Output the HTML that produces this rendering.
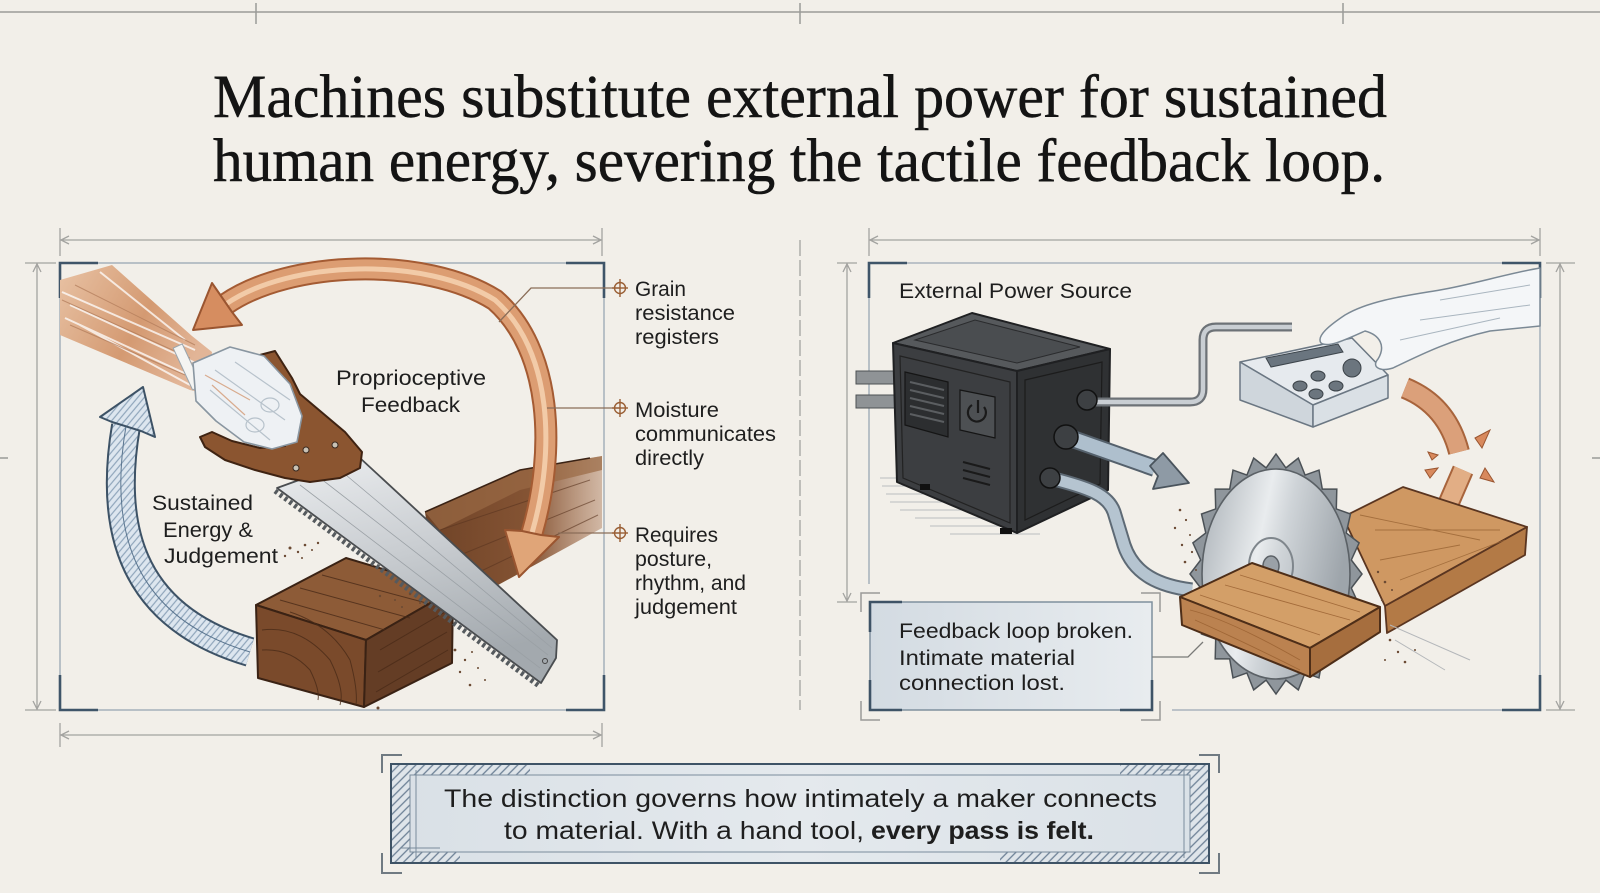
<!DOCTYPE html>
<html><head><meta charset="utf-8">
<style>
html,body{margin:0;padding:0;background:#f2efe9;}
svg{display:block;}
text{font-family:"Liberation Sans",Arial,sans-serif;fill:#1e1e1e;}
.serif{font-family:"Liberation Serif","Times New Roman",serif;fill:#141414;stroke:#141414;stroke-width:0.5;}
</style></head><body>
<svg xmlns="http://www.w3.org/2000/svg" width="1600" height="893" viewBox="0 0 1600 893">
<defs>
  <pattern id="hatch" width="6" height="6" patternUnits="userSpaceOnUse" patternTransform="rotate(45)">
    <rect width="6" height="6" fill="#dfe5ea"/>
    <line x1="1" y1="0" x2="1" y2="6" stroke="#6d8196" stroke-width="1.3"/>
  </pattern>
  <pattern id="bhatch" width="5" height="5" patternUnits="userSpaceOnUse" patternTransform="rotate(40)">
    <rect width="5" height="5" fill="#dde6ef"/>
    <line x1="1" y1="0" x2="1" y2="5" stroke="#8fa5bb" stroke-width="1.2"/>
  </pattern>
  <linearGradient id="blade" x1="0" y1="0" x2="0.3" y2="1">
    <stop offset="0" stop-color="#eceef0"/>
    <stop offset="0.5" stop-color="#c9cdd1"/>
    <stop offset="1" stop-color="#a3a9ae"/>
  </linearGradient>
  <linearGradient id="disc" x1="0" y1="0" x2="1" y2="0.3">
    <stop offset="0" stop-color="#a8afb5"/>
    <stop offset="0.45" stop-color="#e9ecee"/>
    <stop offset="0.6" stop-color="#cfd4d8"/>
    <stop offset="1" stop-color="#9ea5ab"/>
  </linearGradient>
  <linearGradient id="fbox" x1="0" y1="0" x2="1" y2="0">
    <stop offset="0" stop-color="#d3dbe2"/>
    <stop offset="1" stop-color="#e8ecef"/>
  </linearGradient>
  <linearGradient id="bbox" x1="0" y1="0" x2="1" y2="0">
    <stop offset="0" stop-color="#d9e0e6"/>
    <stop offset="0.5" stop-color="#e4e9ed"/>
    <stop offset="1" stop-color="#dae1e7"/>
  </linearGradient>
  <linearGradient id="plank" x1="0" y1="0" x2="1" y2="0">
    <stop offset="0" stop-color="#6f4327"/>
    <stop offset="0.6" stop-color="#855434"/>
    <stop offset="1" stop-color="#b08060" stop-opacity="0.5"/>
  </linearGradient>
  <linearGradient id="arm" x1="0" y1="0" x2="1" y2="0.5">
    <stop offset="0" stop-color="#e8c2a4"/>
    <stop offset="0.6" stop-color="#d49a72"/>
    <stop offset="1" stop-color="#e2b597"/>
  </linearGradient>
</defs>

<rect width="1600" height="893" fill="#f2efe9"/>

<g stroke="#9b9b98" stroke-width="1.5" fill="none">
  <line x1="0" y1="12" x2="1600" y2="12"/>
  <line x1="256" y1="3" x2="256" y2="24"/>
  <line x1="800" y1="3" x2="800" y2="24"/>
  <line x1="1343" y1="3" x2="1343" y2="24"/>
  <line x1="0" y1="458" x2="8" y2="458"/>
  <line x1="1592" y1="458" x2="1600" y2="458"/>
</g>

<text class="serif" x="213" y="117" font-size="61" textLength="1174" lengthAdjust="spacingAndGlyphs">Machines substitute external power for sustained</text>
<text class="serif" x="213" y="181" font-size="61" textLength="1172" lengthAdjust="spacingAndGlyphs">human energy, severing the tactile feedback loop.</text>

<g stroke="#a3a3a0" stroke-width="1.3" fill="none">
  <line x1="60" y1="240" x2="602" y2="240"/>
  <line x1="60" y1="228" x2="60" y2="256"/><line x1="602" y1="228" x2="602" y2="256"/>
  <polyline points="69,236 61,240 69,244"/><polyline points="593,236 601,240 593,244"/>
  <line x1="60" y1="735" x2="602" y2="735"/>
  <line x1="60" y1="723" x2="60" y2="747"/><line x1="602" y1="723" x2="602" y2="747"/>
  <polyline points="69,731 61,735 69,739"/><polyline points="593,731 601,735 593,739"/>
  <line x1="37" y1="263" x2="37" y2="710"/>
  <line x1="25" y1="263" x2="56" y2="263"/><line x1="25" y1="710" x2="56" y2="710"/>
  <polyline points="33,272 37,264 41,272"/><polyline points="33,701 37,709 41,701"/>
  <line x1="869" y1="240" x2="1540" y2="240"/>
  <line x1="869" y1="228" x2="869" y2="256"/><line x1="1540" y1="228" x2="1540" y2="256"/>
  <polyline points="878,236 870,240 878,244"/><polyline points="1531,236 1539,240 1531,244"/>
  <line x1="1560" y1="263" x2="1560" y2="710"/>
  <line x1="1546" y1="263" x2="1575" y2="263"/><line x1="1546" y1="710" x2="1575" y2="710"/>
  <polyline points="1556,272 1560,264 1564,272"/><polyline points="1556,701 1560,709 1564,701"/>
  <line x1="847" y1="263" x2="847" y2="602"/>
  <line x1="837" y1="263" x2="857" y2="263"/><line x1="837" y1="602" x2="857" y2="602"/>
  <polyline points="843,272 847,264 851,272"/><polyline points="843,593 847,601 851,593"/>
  <line x1="800" y1="240" x2="800" y2="710" stroke-dasharray="16 4"/>
</g>

<rect x="60" y="263" width="544" height="447" fill="none" stroke="#aab4bd" stroke-width="1.6"/>
<g stroke="#3f5569" stroke-width="2.6" fill="none">
  <polyline points="60,298 60,263 98,263"/>
  <polyline points="566,263 604,263 604,298"/>
  <polyline points="60,675 60,710 98,710"/>
  <polyline points="566,710 604,710 604,675"/>
</g>

<path d="M869,584 V263 H1540 V710 H1172" fill="none" stroke="#aab4bd" stroke-width="1.6"/>
<g stroke="#3f5569" stroke-width="2.6" fill="none">
  <polyline points="869,298 869,263 907,263"/>
  <polyline points="1502,263 1540,263 1540,298"/>
  <polyline points="1502,710 1540,710 1540,675"/>
</g>

<!-- LEFT ILLUSTRATION -->
<polygon points="425,512 520,470 602,456 602,528 458,607 438,602" fill="url(#plank)"/>
<polygon points="425,512 520,470 602,456 602,470 520,490 440,530" fill="#9a6a45" opacity="0.7"/>
<g stroke="#5a3520" stroke-width="1" opacity="0.6" fill="none">
  <path d="M440,530 L590,480"/><path d="M448,560 L595,500"/><path d="M452,585 L598,515"/>
</g>
<polyline points="425,512 520,470 590,458" fill="none" stroke="#3a2214" stroke-width="1.6"/>

<path d="M126,426 C110,520 125,615 250,652" fill="none" stroke="#3d5266" stroke-width="30"/>
<path d="M126,426 C110,520 125,615 250,652" fill="none" stroke="url(#bhatch)" stroke-width="26"/>
<path d="M126,426 C110,520 125,615 250,652" fill="none" stroke="#5b7690" stroke-width="1"/>
<polygon points="143,387 155,437 141,431 112,422 100,417" fill="url(#bhatch)" stroke="#3d5266" stroke-width="2" stroke-linejoin="round"/>

<path d="M226,304 C290,260 425,256 495,300 C552,350 556,450 532,533" fill="none" stroke="#a45b33" stroke-width="23"/>
<path d="M226,304 C290,260 425,256 495,300 C552,350 556,450 532,533" fill="none" stroke="#dc9d72" stroke-width="19"/>
<path d="M226,304 C290,260 425,256 495,300 C552,350 556,450 532,533" fill="none" stroke="#f2cba8" stroke-width="5"/>
<polygon points="193,330 242,325 232,312 221,296 212,283" fill="#d68d60" stroke="#9a5530" stroke-width="2" stroke-linejoin="round"/>
<polygon points="519,577 505,530 522,531 541,535 559,537" fill="#e0a578" stroke="#9a5530" stroke-width="2" stroke-linejoin="round"/>

<polygon points="256,605 346,558 453,590 366,640" fill="#8d5b37" stroke="#3a2214" stroke-width="2" stroke-linejoin="round"/>
<polygon points="256,605 366,640 364,707 258,678" fill="#7a4a2b" stroke="#3a2214" stroke-width="2" stroke-linejoin="round"/>
<polygon points="366,640 453,590 452,663 364,707" fill="#643d25" stroke="#3a2214" stroke-width="2" stroke-linejoin="round"/>
<g stroke="#4a2b18" stroke-width="1" fill="none" opacity="0.8">
  <path d="M280,600 L385,630"/><path d="M300,588 L410,618"/><path d="M322,575 L430,604"/>
  <path d="M262,630 Q300,625 330,660 Q345,690 340,705"/>
  <path d="M262,650 Q290,648 310,670 Q320,690 318,700"/>
  <path d="M290,612 Q330,625 350,660 Q358,690 356,705"/>
  <path d="M380,650 L445,612"/><path d="M378,672 L447,632"/><path d="M376,692 L448,650"/>
</g>

<line x1="275" y1="491" x2="539" y2="686" stroke="#555a5e" stroke-width="5" stroke-dasharray="3 3"/>
<polygon points="277,488 360,458 557,640 556,658 541,683" fill="url(#blade)" stroke="#4a4d50" stroke-width="1.8" stroke-linejoin="round"/>
<g stroke="#9aa0a5" stroke-width="0.8" fill="none">
  <path d="M300,485 L540,668"/><path d="M320,478 L548,655"/><path d="M340,470 L552,648"/>
</g>
<circle cx="545" cy="661" r="2.5" fill="none" stroke="#444"/>

<polygon points="60,280 112,265 192,336 212,352 207,394 190,390 60,335" fill="url(#arm)"/>
<g stroke="#ffffff" stroke-width="2" fill="none" opacity="0.75">
  <path d="M62,292 L195,350"/><path d="M70,305 L200,365"/><path d="M65,318 L195,378"/>
  <path d="M100,272 L185,340"/><path d="M80,325 L190,385"/>
</g>
<g stroke="#b07a58" stroke-width="1" fill="none" opacity="0.7">
  <path d="M62,300 L190,358"/><path d="M75,285 L195,345"/><path d="M70,325 L185,375"/>
</g>
<rect x="182" y="344" width="10" height="46" transform="rotate(-25 187 366)" fill="#f4f4f2" stroke="#9aa5ad" stroke-width="1"/>

<path d="M256,356 L275,351 L292,378 L300,394 L345,432 L362,452 L360,468 L340,478 L310,482 L285,478 L255,470 L225,460 L205,447 L200,437 L212,432 L232,441 L260,448 L285,446 L290,420 L270,395 Z" fill="#8b5530" stroke="#3f2312" stroke-width="2" stroke-linejoin="round"/>
<g fill="#c9c2b5" stroke="#3a2a20" stroke-width="1">
  <circle cx="306" cy="450" r="3"/><circle cx="335" cy="445" r="3"/><circle cx="296" cy="468" r="3"/>
</g>

<path d="M193,363 L230,347 L264,356 L290,384 L302,416 L297,442 L272,449 L244,442 L216,421 L196,401 Z" fill="#eef1f4" stroke="#8996a1" stroke-width="1.6" stroke-linejoin="round"/>
<g stroke="#b7c2cb" stroke-width="1.2" fill="none">
  <path d="M215,370 L285,420"/><path d="M210,390 L270,440"/><path d="M235,362 L290,400"/>
  <ellipse cx="270" cy="405" rx="9" ry="7"/><ellipse cx="255" cy="425" rx="9" ry="7"/>
</g>
<g stroke="#d39a75" stroke-width="1.2" fill="none" opacity="0.8">
  <path d="M205,375 L250,400"/><path d="M212,385 L245,415"/>
</g>

<g fill="#6b4a33">
  <circle cx="290" cy="548" r="1.5"/><circle cx="298" cy="552" r="1.2"/><circle cx="305" cy="545" r="1.3"/><circle cx="312" cy="550" r="1"/><circle cx="318" cy="543" r="1.2"/><circle cx="302" cy="558" r="1"/><circle cx="285" cy="556" r="1.2"/>
  <circle cx="380" cy="596" r="1.2"/><circle cx="395" cy="600" r="1"/><circle cx="410" cy="594" r="1.2"/><circle cx="402" cy="607" r="1"/><circle cx="420" cy="603" r="1"/>
  <circle cx="455" cy="650" r="1.4"/><circle cx="465" cy="660" r="1.2"/><circle cx="472" cy="652" r="1"/><circle cx="460" cy="672" r="1.2"/><circle cx="478" cy="668" r="1"/><circle cx="470" cy="685" r="1.3"/><circle cx="485" cy="680" r="1"/><circle cx="378" cy="708" r="1.5"/>
</g>

<g stroke="#8a6d58" stroke-width="1.3" fill="none">
  <polyline points="620,288 531,288 499,322"/>
  <line x1="547" y1="408" x2="620" y2="408"/>
  <line x1="558" y1="533" x2="620" y2="533"/>
</g>
<g stroke="#9a5f35" stroke-width="1.4" fill="none">
  <circle cx="620" cy="288" r="5.5"/><line x1="620" y1="279" x2="620" y2="297"/><line x1="612" y1="288" x2="628" y2="288"/>
  <circle cx="620" cy="408" r="5.5"/><line x1="620" y1="399" x2="620" y2="417"/><line x1="612" y1="408" x2="628" y2="408"/>
  <circle cx="620" cy="533" r="5.5"/><line x1="620" y1="524" x2="620" y2="542"/><line x1="612" y1="533" x2="628" y2="533"/>
</g>
<g font-size="21">
  <text x="635" y="296" textLength="51" lengthAdjust="spacingAndGlyphs">Grain</text>
  <text x="635" y="320" textLength="100" lengthAdjust="spacingAndGlyphs">resistance</text>
  <text x="635" y="344" textLength="84" lengthAdjust="spacingAndGlyphs">registers</text>
  <text x="635" y="417" textLength="84" lengthAdjust="spacingAndGlyphs">Moisture</text>
  <text x="635" y="441" textLength="141" lengthAdjust="spacingAndGlyphs">communicates</text>
  <text x="635" y="465" textLength="69" lengthAdjust="spacingAndGlyphs">directly</text>
  <text x="635" y="542" textLength="83" lengthAdjust="spacingAndGlyphs">Requires</text>
  <text x="635" y="566" textLength="77" lengthAdjust="spacingAndGlyphs">posture,</text>
  <text x="635" y="590" textLength="111" lengthAdjust="spacingAndGlyphs">rhythm, and</text>
  <text x="635" y="614" textLength="102" lengthAdjust="spacingAndGlyphs">judgement</text>
  <text x="336" y="385" textLength="150" lengthAdjust="spacingAndGlyphs">Proprioceptive</text>
  <text x="361" y="412" textLength="99" lengthAdjust="spacingAndGlyphs">Feedback</text>
  <text x="152" y="510" textLength="101" lengthAdjust="spacingAndGlyphs">Sustained</text>
  <text x="163" y="537" textLength="90" lengthAdjust="spacingAndGlyphs">Energy &amp;</text>
  <text x="164" y="563" textLength="114" lengthAdjust="spacingAndGlyphs">Judgement</text>
</g>

<!-- RIGHT ILLUSTRATION -->
<text x="899" y="298" font-size="21" textLength="233" lengthAdjust="spacingAndGlyphs">External Power Source</text>

<g stroke="#b9bcbf" stroke-width="1">
  <line x1="880" y1="478" x2="910" y2="478"/><line x1="882" y1="486" x2="930" y2="486"/><line x1="886" y1="494" x2="960" y2="494"/>
  <line x1="890" y1="502" x2="985" y2="502"/><line x1="900" y1="510" x2="1005" y2="510"/><line x1="915" y1="518" x2="1010" y2="518"/>
  <line x1="930" y1="526" x2="1015" y2="526"/><line x1="950" y1="534" x2="1040" y2="534"/>
</g>

<rect x="856" y="371" width="40" height="13" fill="#8f9396" stroke="#4c5054" stroke-width="1"/>
<rect x="856" y="395" width="40" height="13" fill="#8f9396" stroke="#4c5054" stroke-width="1"/>

<polygon points="893,343 972,313 1110,349 1017,371" fill="#56595c" stroke="#1f2022" stroke-width="2" stroke-linejoin="round"/>
<polygon points="915,340 975,320 1080,347 1017,363" fill="#4a4d50" stroke="#2a2b2d" stroke-width="1"/>
<polygon points="893,343 1017,371 1017,533 897,482" fill="#3c3e41" stroke="#1f2022" stroke-width="2" stroke-linejoin="round"/>
<polygon points="1017,371 1110,349 1108,490 1017,533" fill="#2f3133" stroke="#1f2022" stroke-width="2" stroke-linejoin="round"/>
<polygon points="900,356 1010,382 1010,523 903,478" fill="none" stroke="#222" stroke-width="1.2"/>
<polygon points="1025,380 1102,362 1100,484 1025,520" fill="none" stroke="#1c1c1c" stroke-width="1.2"/>
<polygon points="905,372 948,382 948,437 905,425" fill="#2c2e30" stroke="#151515" stroke-width="1.2"/>
<g stroke="#5b5e61" stroke-width="2">
  <line x1="910" y1="382" x2="944" y2="390"/><line x1="910" y1="390" x2="944" y2="398"/><line x1="910" y1="398" x2="944" y2="406"/>
  <line x1="910" y1="406" x2="944" y2="414"/><line x1="910" y1="414" x2="944" y2="422"/>
</g>
<polygon points="960,390 995,397 995,438 960,430" fill="#4d5053" stroke="#151515" stroke-width="1.2"/>
<path d="M972,405 A9,9 0 1 0 984,407" fill="none" stroke="#1a1a1a" stroke-width="2.2"/>
<line x1="978" y1="400" x2="978" y2="413" stroke="#1a1a1a" stroke-width="2.2"/>
<g stroke="#1a1a1a" stroke-width="2">
  <line x1="963" y1="462" x2="990" y2="469"/><line x1="963" y1="470" x2="990" y2="477"/><line x1="963" y1="478" x2="990" y2="485"/>
</g>
<g fill="#111"><rect x="920" y="484" width="10" height="6"/><rect x="1000" y="528" width="12" height="6"/><rect x="1085" y="490" width="10" height="6"/></g>

<path d="M1090,402 H1190 Q1203,402 1203,389 V340 Q1203,327 1216,327 H1292" fill="none" stroke="#6d7277" stroke-width="9"/>
<path d="M1090,402 H1190 Q1203,402 1203,389 V340 Q1203,327 1216,327 H1292" fill="none" stroke="#c9ced3" stroke-width="4.5"/>
<circle cx="1087" cy="400" r="10" fill="#3d4043" stroke="#111" stroke-width="1.5"/>

<path d="M1050,478 C1090,488 1108,495 1114,512 L1124,545 C1134,575 1160,586 1192,590" fill="none" stroke="#5e6a75" stroke-width="15"/>
<path d="M1050,478 C1090,488 1108,495 1114,512 L1124,545 C1134,575 1160,586 1192,590" fill="none" stroke="#b5c4d0" stroke-width="11"/>
<circle cx="1050" cy="478" r="10" fill="#3d4043" stroke="#111" stroke-width="1.5"/>

<path d="M1067,437 L1155,468" fill="none" stroke="#55616c" stroke-width="18"/>
<path d="M1067,437 L1155,468" fill="none" stroke="#aebfcd" stroke-width="14"/>
<polygon points="1189,483 1153,489 1158,476 1150,466 1163,453" fill="#8e9aa5" stroke="#4a545d" stroke-width="1.8" stroke-linejoin="round"/>
<circle cx="1066" cy="437" r="12" fill="#3d4043" stroke="#111" stroke-width="1.5"/>

<polygon points="1240,362 1352,338 1388,375 1313,405" fill="#e6eaee" stroke="#6b7783" stroke-width="1.5" stroke-linejoin="round"/>
<polygon points="1240,362 1313,405 1313,427 1240,400" fill="#cfd6dc" stroke="#6b7783" stroke-width="1.5" stroke-linejoin="round"/>
<polygon points="1313,405 1388,375 1388,398 1313,427" fill="#dae0e5" stroke="#6b7783" stroke-width="1.5" stroke-linejoin="round"/>
<polygon points="1266,358 1338,344 1343,352 1271,367" fill="#6a757f" stroke="#3d454c" stroke-width="1"/>
<g fill="#6b757e" stroke="#3b4248" stroke-width="1">
  <ellipse cx="1300" cy="386" rx="7" ry="5"/><ellipse cx="1318" cy="376" rx="7" ry="5"/>
  <ellipse cx="1316" cy="394" rx="7" ry="5"/><ellipse cx="1336" cy="386" rx="7" ry="5"/>
  <circle cx="1352" cy="368" r="9"/>
</g>

<path d="M1540,268 C1510,273 1470,285 1440,290 C1410,295 1370,300 1345,315 C1330,325 1316,336 1321,343 C1328,348 1345,340 1365,331 C1380,335 1386,346 1378,359 C1371,367 1380,372 1393,368 C1420,355 1450,340 1490,331 L1540,326 Z" fill="#f4f6f8" stroke="#7b8995" stroke-width="1.5" stroke-linejoin="round"/>
<g stroke="#a9b5bf" stroke-width="1" fill="none">
  <path d="M1440,300 L1530,285"/><path d="M1420,320 L1530,305"/><path d="M1400,340 L1500,318"/>
</g>

<path d="M1405,388 Q1447,405 1459,452" fill="none" stroke="#a8643c" stroke-width="22"/>
<path d="M1405,388 Q1447,405 1459,452" fill="none" stroke="#dba07a" stroke-width="18"/>
<path d="M1463,470 L1437,530" fill="none" stroke="#a8643c" stroke-width="22"/>
<path d="M1463,470 L1437,530" fill="none" stroke="#e2ae85" stroke-width="18"/>
<polygon points="1418,563 1410,524 1424,530 1442,538 1454,546" fill="#e2a47a" stroke="#a8643c" stroke-width="1.8" stroke-linejoin="round"/>
<g fill="#d8895d" stroke="#9a5530" stroke-width="1">
  <polygon points="1475,438 1490,430 1482,448"/><polygon points="1428,452 1438,455 1432,460"/>
  <polygon points="1425,470 1438,468 1430,478"/><polygon points="1485,468 1494,482 1480,478"/>
</g>

<polygon points="1343,517 1403,487 1527,527 1385,606" fill="#cf9862" stroke="#5a3520" stroke-width="1.8" stroke-linejoin="round"/>
<polygon points="1385,606 1527,527 1525,555 1387,633" fill="#b37a46" stroke="#5a3520" stroke-width="1.8" stroke-linejoin="round"/>
<g stroke="#9a6535" stroke-width="0.9" fill="none" opacity="0.8">
  <path d="M1360,515 L1480,540"/><path d="M1375,530 L1500,530"/><path d="M1380,560 L1460,545"/><path d="M1400,580 L1505,540"/>
</g>

<!-- circular saw with pointed teeth -->
<polygon points="1362,574 1351.3,588 1359.1,605.1 1346.2,615 1350.5,634 1336.3,639.1 1336.8,658.9 1322.3,658.9 1319,677.9 1305.1,672.9 1298.3,689.9 1285.9,680.1 1276,694 1266.1,680.1 1253.7,689.9 1246.9,672.9 1233,677.9 1229.7,658.9 1215.2,658.9 1215.7,639.1 1201.5,634 1205.8,615 1192.9,605.1 1200.7,588 1190,574 1200.7,560 1192.9,542.9 1205.8,533 1201.5,514 1215.7,508.9 1215.2,489.1 1229.7,489.1 1233,470.1 1246.9,475.1 1253.7,458.1 1266.1,467.9 1276,454 1285.9,467.9 1298.3,458.1 1305.1,475.1 1319,470.1 1322.3,489.1 1336.8,489.1 1336.3,508.9 1350.5,514 1346.2,533 1359.1,542.9 1351.3,560" fill="#8f969c" stroke="#4b5156" stroke-width="1.5" stroke-linejoin="miter"/>
<ellipse cx="1276" cy="574" rx="74" ry="105" fill="url(#disc)" stroke="#5b6166" stroke-width="1.6"/>
<ellipse cx="1271" cy="566" rx="22" ry="28" fill="none" stroke="#7f868c" stroke-width="2"/>
<ellipse cx="1271" cy="566" rx="8" ry="10" fill="#9aa1a7" stroke="#5b6166" stroke-width="1.5"/>

<polygon points="1180,597 1252,563 1380,607 1310,648" fill="#d39f68" stroke="#4e2e18" stroke-width="2" stroke-linejoin="round"/>
<polygon points="1180,597 1310,648 1310,677 1182,625" fill="#bb8250" stroke="#4e2e18" stroke-width="2" stroke-linejoin="round"/>
<polygon points="1310,648 1380,607 1380,632 1310,677" fill="#a66e3e" stroke="#4e2e18" stroke-width="2" stroke-linejoin="round"/>
<g stroke="#9b6232" stroke-width="0.9" fill="none" opacity="0.85">
  <path d="M1200,595 L1320,635"/><path d="M1225,585 L1350,620"/><path d="M1240,575 L1360,612"/>
  <path d="M1190,610 Q1230,620 1300,660"/><path d="M1195,620 Q1240,640 1300,670"/>
</g>

<g fill="#6b4a33">
  <circle cx="1180" cy="510" r="1.3"/><circle cx="1186" cy="520" r="1.1"/><circle cx="1175" cy="528" r="1.2"/><circle cx="1190" cy="535" r="1"/><circle cx="1182" cy="545" r="1.2"/><circle cx="1192" cy="552" r="1.1"/><circle cx="1185" cy="562" r="1.3"/><circle cx="1196" cy="570" r="1"/>
  <circle cx="1378" cy="572" r="1.2"/><circle cx="1385" cy="582" r="1.3"/><circle cx="1392" cy="590" r="1"/><circle cx="1382" cy="600" r="1.2"/>
  <circle cx="1390" cy="640" r="1.3"/><circle cx="1398" cy="652" r="1.2"/><circle cx="1385" cy="660" r="1"/><circle cx="1405" cy="662" r="1.3"/><circle cx="1415" cy="650" r="1"/>
</g>
<g stroke="#b4b7ba" stroke-width="1"><line x1="1390" y1="625" x2="1470" y2="660"/><line x1="1395" y1="640" x2="1445" y2="670"/></g>

<rect x="870" y="602" width="282" height="108" fill="url(#fbox)" stroke="#7f909e" stroke-width="1.5"/>
<g stroke="#3e5366" stroke-width="2.6" fill="none">
  <polyline points="870,632 870,602 902,602"/>
  <polyline points="870,680 870,710 902,710"/>
  <polyline points="1120,710 1152,710 1152,680"/>
</g>
<g stroke="#9a9a98" stroke-width="1.5" fill="none">
  <polyline points="861,612 861,593 880,593"/>
  <polyline points="861,701 861,720 880,720"/>
  <polyline points="1141,593 1160,593 1160,612"/>
  <polyline points="1141,720 1160,720 1160,701"/>
</g>
<polyline points="1152,657 1188,657 1203,642" fill="none" stroke="#7a7a78" stroke-width="1.3"/>
<g font-size="21">
  <text x="899" y="638" textLength="234" lengthAdjust="spacingAndGlyphs">Feedback loop broken.</text>
  <text x="899" y="665" textLength="176" lengthAdjust="spacingAndGlyphs">Intimate material</text>
  <text x="899" y="690" textLength="166" lengthAdjust="spacingAndGlyphs">connection lost.</text>
</g>

<!-- BOTTOM BOX -->
<rect x="391" y="764" width="818" height="99" fill="url(#bbox)"/>
<rect x="391" y="764" width="19" height="99" fill="url(#hatch)"/>
<rect x="1190" y="764" width="19" height="99" fill="url(#hatch)"/>
<rect x="410" y="764" width="120" height="11" fill="url(#hatch)"/>
<rect x="1120" y="764" width="70" height="11" fill="url(#hatch)"/>
<rect x="1000" y="852" width="190" height="11" fill="url(#hatch)"/>
<rect x="410" y="852" width="50" height="11" fill="url(#hatch)"/>
<rect x="391" y="764" width="818" height="99" fill="none" stroke="#3e5366" stroke-width="2"/>
<rect x="410" y="775" width="780" height="77" fill="none" stroke="#7a8c9c" stroke-width="1"/>
<g stroke="#7a8c9c" stroke-width="1">
  <line x1="400" y1="848" x2="440" y2="848"/><line x1="416" y1="770" x2="416" y2="858"/>
  <line x1="1160" y1="770" x2="1200" y2="770"/><line x1="1184" y1="770" x2="1184" y2="858"/>
</g>
<g stroke="#707a82" stroke-width="2" fill="none">
  <polyline points="382,773 382,755 402,755"/>
  <polyline points="382,853 382,873 402,873"/>
  <polyline points="1199,755 1219,755 1219,773"/>
  <polyline points="1199,873 1219,873 1219,853"/>
</g>
<text x="444" y="807" font-size="25" textLength="713" lengthAdjust="spacingAndGlyphs">The distinction governs how intimately a maker connects</text>
<text x="504" y="839" font-size="25" textLength="360" lengthAdjust="spacingAndGlyphs">to material. With a hand tool,</text>
<text x="871" y="839" font-size="25" font-weight="bold" textLength="223" lengthAdjust="spacingAndGlyphs">every pass is felt.</text>

</svg>
</body></html>
